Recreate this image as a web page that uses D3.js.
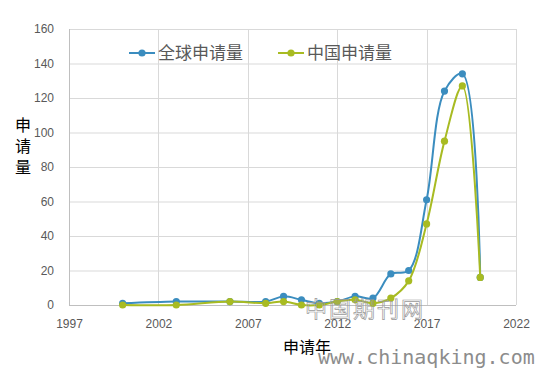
<!DOCTYPE html>
<html><head><meta charset="utf-8">
<script src="https://cdn.jsdelivr.net/npm/d3@7"></script>
<style>body{margin:0;background:#fff}svg{display:block}</style>
</head><body><svg id="c" width="543" height="368"></svg>
<script>
const years = [2000,2003,2006,2008,2009,2010,2011,2012,2013,2014,2015,2016,2017,2018,2019,2020];
const globalApps = [1,2,2,2,5,3,1,2,5,4,18,20,61,124,134,16];
const chinaApps  = [0,0,2,1,2,0,0,2,3,1,4,14,47,95,127,16];
const xTicks = [1997,2002,2007,2012,2017,2022];
const yTicks = [0,20,40,60,80,100,120,140,160];
const seriesNames = ["全球申请量","中国申请量"];
const colors = ["#3b8dbf","#a8bb22"];

const svg = d3.select("#c");
const L=69,R=516,T=29,B=305;
const x = d3.scaleLinear().domain([1997,2022]).range([L,R]);
const y = d3.scaleLinear().domain([0,160]).range([B,T]);
const font = "'Liberation Sans', 'Noto Sans CJK SC', sans-serif";

// grid
svg.append("g").selectAll("line.h").data(yTicks.slice(1)).join("line")
  .attr("x1",L).attr("x2",R).attr("y1",d=>y(d)+0.5).attr("y2",d=>y(d)+0.5)
  .attr("stroke","#d9d9d9").attr("stroke-width",1);
svg.append("g").selectAll("line.v").data(xTicks.slice(1)).join("line")
  .attr("x1",d=>Math.round(x(d))+0.5).attr("x2",d=>Math.round(x(d))+0.5).attr("y1",T).attr("y2",B)
  .attr("stroke","#d9d9d9").attr("stroke-width",1);
// axes lines
svg.append("line").attr("x1",L+0.5).attr("x2",L+0.5).attr("y1",T).attr("y2",B).attr("stroke","#bfbfbf");
svg.append("line").attr("x1",L).attr("x2",R).attr("y1",B+0.5).attr("y2",B+0.5).attr("stroke","#bfbfbf");

// tick labels
const yAxis = d3.axisLeft(y).tickValues(yTicks).tickSize(0).tickPadding(15);
const gy = svg.append("g").attr("transform",`translate(${L},0)`).call(yAxis);
gy.select(".domain").remove();
gy.selectAll("text").attr("fill","#595959").style("font-family",font).style("font-size","12px");
const xAxis = d3.axisBottom(x).tickValues(xTicks).tickFormat(d3.format("d")).tickSize(0).tickPadding(14);
const gx = svg.append("g").attr("transform",`translate(0,${B})`).call(xAxis);
gx.select(".domain").remove();
gx.selectAll("text").attr("fill","#595959").style("font-family",font).style("font-size","12px");

// axis titles
const yt = svg.append("text").attr("fill","#000").style("font-family","'Noto Sans CJK SC', sans-serif").style("font-size","16px").attr("text-anchor","middle");
["申","请","量"].forEach((ch,i)=>yt.append("tspan").attr("x",23).attr("y",131+i*21).text(ch));
svg.append("text").attr("x",307).attr("y",353).attr("text-anchor","middle").attr("fill","#000")
  .style("font-family","'Noto Sans CJK SC', sans-serif").style("font-size","16px").text("申请年");

// lines
const line = d3.line().x(d=>x(d[0])).y(d=>y(d[1])).curve(d3.curveCatmullRom.alpha(0.5));
[globalApps, chinaApps].forEach((vals,i)=>{
  const pts = years.map((yr,j)=>[yr,vals[j]]);
  svg.append("path").datum(pts).attr("d",line).attr("fill","none").attr("stroke",colors[i]).attr("stroke-width",2);
  svg.append("g").selectAll("circle").data(pts).join("circle")
    .attr("cx",d=>x(d[0])).attr("cy",d=>y(d[1])).attr("r",3.6).attr("fill",colors[i]);
});

// legend
const lg = [[129,seriesNames[0],colors[0]],[278,seriesNames[1],colors[1]]];
lg.forEach(([lx,name,c])=>{
  svg.append("line").attr("x1",lx).attr("x2",lx+26).attr("y1",53).attr("y2",53).attr("stroke",c).attr("stroke-width",2);
  svg.append("circle").attr("cx",lx+13).attr("cy",53).attr("r",3.6).attr("fill",c);
  svg.append("text").attr("x",lx+29).attr("y",59).attr("fill","#595959")
    .style("font-family","'Noto Sans CJK SC', sans-serif").style("font-size","17px").text(name);
});

// watermark
svg.append("text").attr("x",305).attr("y",317).attr("fill","none").attr("stroke","#9a9a9a").attr("stroke-width",0.7)
  .style("font-family","'Noto Sans CJK SC', sans-serif").style("font-size","22px").style("letter-spacing","2px").text("中国期刊网");
svg.append("text").attr("x",318).attr("y",364).attr("fill","#8c8c8c")
  .style("font-family","'DejaVu Sans Mono', monospace").style("font-size","20px").text("www.chinaqking.com");
</script></body></html>
